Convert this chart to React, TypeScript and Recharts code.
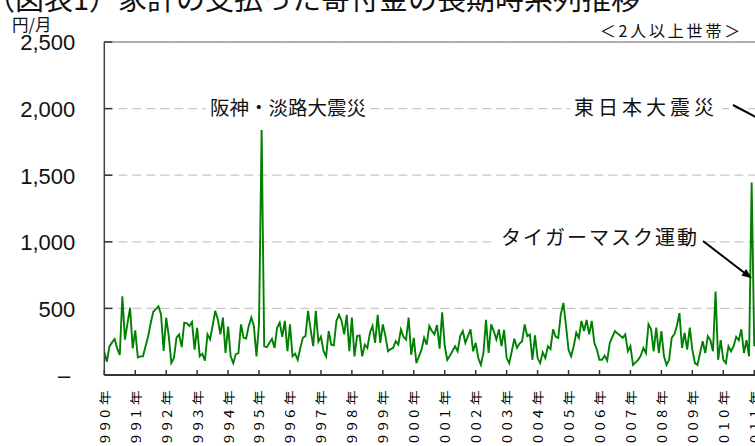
import React from "react";
import { LineChart, Line, XAxis, YAxis, CartesianGrid, ReferenceLine } from "recharts";

// Monthly donations (yen / month), 2+ person households, Jan 1990 onward
const donations1990s = [
  170, 100, 215, 245, 270, 200, 150, 590, 265, 390, 505, 200,
  335, 132, 140, 140, 215, 290, 390, 475, 495, 515, 455, 180,
  430, 290, 90, 127, 280, 305, 210, 393, 388, 368, 398, 190,
  355, 140, 160, 107, 305, 267, 370, 482, 419, 305, 431, 165,
  363, 140, 89, 157, 165, 380, 279, 274, 368, 431, 368, 140,
  388, 1840, 216, 208, 240, 272, 203, 355, 393, 287, 406, 178,
  380, 140, 160, 114, 203, 279, 292, 482, 340, 216, 482, 250,
  287, 178, 140, 330, 228, 223, 406, 452, 406, 305, 452, 178,
  431, 140, 292, 297, 140, 228, 203, 317, 368, 241, 452, 241,
  380, 292, 178, 195, 203, 254, 228, 342, 287, 266, 431, 152,
];
const donations2000s = [
  279, 89, 140, 190, 279, 228, 368, 330, 305, 375, 198, 470,
  216, 114, 145, 180, 216, 178, 292, 330, 241, 292, 342, 178,
  241, 127, 76, 165, 414, 165, 380, 330, 266, 342, 216, 338,
  127, 89, 180, 272, 203, 236, 254, 380, 292, 305, 114, 297,
  127, 89, 170, 127, 216, 195, 343, 287, 279, 457, 541, 373,
  190, 140, 216, 317, 279, 406, 330, 414, 305, 406, 241, 190,
  114, 114, 145, 109, 241, 287, 330, 312, 297, 279, 305, 178,
  216, 76, 95, 114, 145, 203, 165, 381, 343, 178, 355, 165,
  330, 140, 76, 114, 279, 305, 368, 464, 203, 317, 190, 355,
  190, 89, 76, 165, 254, 165, 292, 261, 178, 627, 114, 261,
  114, 89, 216, 178, 216, 287, 261, 343, 165, 261, 140, 1445,
];
const donations2010s = [216, 300, 2300];

const yearLabels = [
  "1990年", "1991年", "1992年", "1993年", "1994年", "1995年", "1996年", "1997年",
  "1998年", "1999年", "2000年", "2001年", "2002年", "2003年", "2004年", "2005年",
  "2006年", "2007年", "2008年", "2009年", "2010年", "2011年", "2012年",
];
const yTicks = [0, 500, 1000, 1500, 2000, 2500];

const allValues = [...donations1990s, ...donations2000s, ...donations2010s];
const rows = allValues.map((v, i) => ({ m: i, v }));
const xTicks = yearLabels.map((_, i) => i * 12);
const monthsSpan = (yearLabels.length - 1) * 12;

const YTick = (props: any) => {
  const { x, y, payload } = props;
  const v = payload.value as number;
  const label = v === 0 ? "–" : v.toLocaleString("en-US");
  return (
    <g>
      {v !== 0 ? (
        <line x1={x} x2={x + 8} y1={y} y2={y} stroke="#333" strokeWidth={1.5} />
      ) : null}
      <text
        x={v === 0 ? x - 34 : x - 29}
        y={y + 1}
        textAnchor="end"
        dominantBaseline="central"
        fontSize={22}
        fontFamily="'Liberation Sans', Arial, sans-serif"
        fill="#111"
      >
        {label}
      </text>
    </g>
  );
};

const XTick = (props: any) => {
  const { x, y, payload } = props;
  const label = yearLabels[Math.round(payload.value / 12)] ?? "";
  return (
    <g>
      <line x1={x} x2={x} y1={y} y2={y - 5} stroke="#333" strokeWidth={1.5} />
      <text
        transform={`translate(${x},${y + 11}) rotate(-90) scale(1.2,1)`}
        textAnchor="end"
        dominantBaseline="central"
        fontSize={12.5}
        letterSpacing={3.6}
        fontFamily="'Noto Sans CJK JP', sans-serif"
        fill="#000"
      >
        {label}
      </text>
    </g>
  );
};

const jp = "'Noto Sans CJK JP', sans-serif";

export default function App() {
  return (
    <div
      style={{
        position: "absolute",
        left: 0,
        top: 0,
        width: 755,
        height: 446,
        overflow: "hidden",
        background: "#fff",
      }}
    >
      <LineChart
        width={795.2}
        height={455}
        data={rows}
        margin={{ top: 42, right: 10, bottom: 0, left: 44.3 }}
      >
        <CartesianGrid
          vertical={false}
          stroke="#c8c8c8"
          strokeDasharray="9 5"
          strokeWidth={1.2}
        />
        <ReferenceLine y={2500} stroke="#9a9a9a" strokeWidth={1.5} />
        <XAxis
          dataKey="m"
          type="number"
          domain={[0, monthsSpan]}
          ticks={xTicks}
          interval={0}
          tick={<XTick />}
          tickLine={false}
          tickSize={0}
          tickMargin={0}
          height={80}
          axisLine={{ stroke: "#333", strokeWidth: 2 }}
          allowDataOverflow
        />
        <YAxis
          domain={[0, 2500]}
          ticks={yTicks}
          interval={0}
          tick={<YTick />}
          tickLine={false}
          tickSize={0}
          tickMargin={0}
          width={60}
          axisLine={{ stroke: "#444", strokeWidth: 1.5 }}
        />
        <Line
          type="linear"
          dataKey="v"
          stroke="#008000"
          strokeWidth={1.9}
          dot={false}
          isAnimationActive={false}
        />
      </LineChart>
      <svg
        width={755}
        height={446}
        style={{ position: "absolute", left: 0, top: 0, pointerEvents: "none" }}
      >
        <text x={-14} y={10} fontSize={29} fontFamily={jp} fill="#111">
          （図表1）家計の支払った寄付金の長期時系列推移
        </text>
        <text x={12} y={31} fontSize={16.5} fontFamily={jp} fill="#111">
          円/月
        </text>
        <text x={743} y={37} fontSize={16} letterSpacing={2.8} textAnchor="end" fontFamily={jp} fill="#111">
          ＜2人以上世帯＞
        </text>

        <rect x={206} y={96} width={164} height={22} fill="#fff" />
        <text x={210} y={115} fontSize={19.5} fontFamily={jp} fill="#111">
          阪神・淡路大震災
        </text>

        <rect x={570} y={96} width={152} height={22} fill="#fff" />
        <text x={574} y={115} fontSize={20} letterSpacing={4} fontFamily={jp} fill="#111">
          東日本大震災
        </text>
        <line x1={733} y1={105} x2={775} y2={127} stroke="#000" strokeWidth={2} />

        <rect x={496} y={226} width={206} height={22} fill="#fff" />
        <text x={699} y={245} fontSize={20} letterSpacing={2} textAnchor="end" fontFamily={jp} fill="#111">
          タイガーマスク運動
        </text>
        <line x1={703} y1={241} x2={744} y2={272.5} stroke="#000" strokeWidth={2} />
        <polygon points="751.7,278.3 741.4,275.4 746.2,269.0" fill="#000" />
      </svg>
    </div>
  );
}
